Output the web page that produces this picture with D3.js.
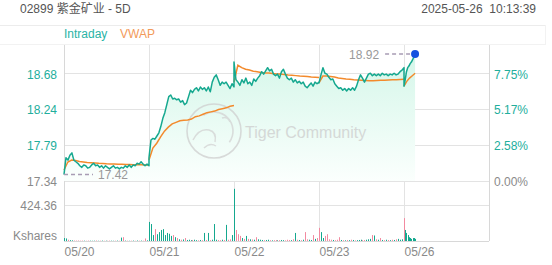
<!DOCTYPE html>
<html><head><meta charset="utf-8">
<script src="https://cdn.jsdelivr.net/npm/d3@7"></script>
<style>
html,body{margin:0;padding:0;background:#fff;}
svg{display:block;font-family:"Liberation Sans",Arial,"Noto Sans CJK SC",sans-serif;}
</style>
</head><body>
<svg id="c" width="552" height="265"></svg>
<script>
const title = "02899 紫金矿业 - 5D";
const timestamp = "2025-05-26  10:13:39";
const dayLabels = ["05/20", "05/21", "05/22", "05/23", "05/26"];
const legendLabels = ["Intraday", "VWAP"];

const price0520 = [17.42,17.63,17.60,17.66,17.69,17.60,17.58,17.56,17.53,17.51,17.54,17.53,17.50,17.51,17.54,17.56,17.53,17.54,17.51,17.53,17.50,17.53,17.51,17.49,17.51,17.53,17.50,17.51,17.49,17.51,17.50,17.53,17.51,17.54,17.51,17.54,17.53,17.56,17.55,17.58,17.55,17.53,17.55,17.53];
const price0521 = [17.63,17.85,17.87,17.86,17.90,17.94,18.02,18.12,18.19,18.29,18.39,18.41,18.36,18.37,18.35,18.36,18.32,18.34,18.29,18.31,18.39,18.47,18.44,18.48,18.50,18.46,18.51,18.48,18.50,18.46,18.51,18.45,18.57,18.63,18.66,18.60,18.53,18.57,18.55,18.57,18.53,18.49,18.55,18.51];
const price0522 = [18.82,18.60,18.57,18.53,18.60,18.56,18.62,18.55,18.57,18.53,18.61,18.58,18.62,18.65,18.70,18.67,18.71,18.75,18.71,18.73,18.67,18.65,18.67,18.62,18.70,18.73,18.67,18.62,18.60,18.62,18.57,18.60,18.56,18.58,18.55,18.57,18.52,18.50,18.53,18.56,18.52,18.57,18.55,18.57];
const price0523 = [18.56,18.66,18.75,18.68,18.67,18.63,18.60,18.61,18.55,18.52,18.49,18.50,18.47,18.49,18.46,18.49,18.47,18.50,18.47,18.52,18.60,18.66,18.62,18.57,18.62,18.67,18.68,18.65,18.67,18.65,18.67,18.65,18.68,18.66,18.67,18.65,18.67,18.66,18.68,18.66,18.67,18.70,18.72,18.75];
const price0526 = [18.52,18.60,18.70,18.75,18.77,18.80,18.82,18.85,18.88,18.92];

const vwap0520 = [17.477,17.576,17.601,17.595,17.583,17.576,17.570,17.567,17.564,17.560,17.558,17.554,17.552,17.552,17.548,17.548,17.545,17.544,17.543,17.542,17.542,17.539,17.539];
const vwap0521 = [17.60,17.75,17.81,17.89,17.96,18.01,18.05,18.07,18.09,18.095,18.10,18.11,18.14,18.15,18.17,18.19,18.20,18.21,18.23,18.24,18.25,18.27,18.28];
const vwap0522 = [18.57,18.78,18.75,18.73,18.72,18.705,18.70,18.69,18.684,18.684,18.678,18.671,18.671,18.665,18.659,18.655,18.651,18.646,18.643,18.639,18.634,18.632,18.628];
const vwap0523 = [18.56,18.646,18.646,18.640,18.634,18.621,18.615,18.609,18.605,18.600,18.597,18.593,18.590,18.588,18.588,18.590,18.593,18.594,18.597,18.599,18.600,18.603,18.605];
const vwap0526 = [18.52,18.58,18.62,18.65,18.68];

const vol0520 = [35,30,15,10,8,6,5,6,4,5,4,3,5,4,3,4,6,3,4,5,3,4,3,5,4,3,4,5,3,40,45,5,4,3,4,5,3,6,4,5,4,30,8,6];
const vol0521 = [225,200,70,140,80,105,130,140,70,95,85,60,70,45,35,20,15,18,35,12,15,10,12,15,10,8,12,10,95,12,95,10,15,200,15,12,10,15,12,190,15,20,70,30];
const vol0522 = [615,130,80,60,35,25,60,25,20,18,15,45,20,15,12,10,12,15,10,8,10,12,8,10,12,10,8,15,12,10,20,95,15,12,10,15,105,20,15,12,70,25,35,20];
const vol0523 = [155,105,35,60,80,20,15,12,10,15,45,12,10,8,12,10,15,12,8,10,12,15,10,12,15,20,25,70,65,20,15,35,12,10,15,12,10,15,12,20,25,15,20,30];
const vol0526 = [270,130,95,70,45,35,25,35,35,25];

const priceTicks = [17.34, 17.79, 18.24, 18.68];
const pctTicks = ["0.00%", "2.58%", "5.17%", "7.75%"];
const priceMin = 17.34, priceMax = 19.032;
const volTick = 424.36, volMax = 707.27;
const lowLabel = 17.42, highLabel = 18.92;
const sessionMinutes = 330, lastDayMinutes = 43;

const priceDays = [price0520, price0521, price0522, price0523, price0526];
const vwapDays = [vwap0520, vwap0521, vwap0522, vwap0523, vwap0526];
const volDays = [vol0520, vol0521, vol0522, vol0523, vol0526];

const teal = "#15a88f", orange = "#f38a2c", pink = "#f28aa0", grid = "#e3e3e3";
const labelTeal = "#22ae9c", grey = "#8a8a8a";

const svg = d3.select("#c");
const L = 64, R = 489, T = 45, PB = 181, VB = 241;
const x = d3.scaleLinear().domain([0, 5]).range([L, R]);
const y = d3.scaleLinear().domain([priceMin, priceMax]).range([PB, T]);
const yv = d3.scaleLinear().domain([0, volMax]).range([VB, PB]);

function timeOf(d, i, n) {
  const span = d < 4 ? sessionMinutes : lastDayMinutes;
  return d + (n > 1 ? i / (n - 1) : 0) * span / sessionMinutes;
}
const pricePts = [];
priceDays.forEach((arr, d) => arr.forEach((v, i) => pricePts.push({t: timeOf(d, i, arr.length), v, vol: volDays[d][i]})));
pricePts.forEach((p, k) => { p.up = k === 0 ? true : p.v >= pricePts[k - 1].v; });

// header
svg.append("text").attr("x", 20).attr("y", 13).attr("font-size", 12).attr("fill", "#555").text(title);
svg.append("text").attr("x", 536).attr("y", 13).attr("font-size", 12).attr("fill", "#555")
  .attr("text-anchor", "end").style("white-space", "pre").text(timestamp);
svg.append("line").attr("x1", 0).attr("x2", 545).attr("y1", 25.5).attr("y2", 25.5).attr("stroke", "#ececec");
svg.append("line").attr("x1", 0).attr("x2", 545).attr("y1", 44.5).attr("y2", 44.5).attr("stroke", "#f2f2f2");
svg.append("line").attr("x1", 545.5).attr("x2", 545.5).attr("y1", 25).attr("y2", 45).attr("stroke", "#f2f2f2");
svg.append("text").attr("x", 64).attr("y", 38).attr("font-size", 12).attr("fill", "#2ab3a5").text(legendLabels[0]);
svg.append("text").attr("x", 120).attr("y", 38).attr("font-size", 12).attr("fill", "#f29a5a").text(legendLabels[1]);

// grid
const g = svg.append("g");
g.selectAll(".hg").data(priceTicks).join("line")
  .attr("x1", L).attr("x2", R).attr("y1", d => Math.round(y(d)) + 0.5).attr("y2", d => Math.round(y(d)) + 0.5)
  .attr("stroke", grid);
g.append("line").attr("x1", L).attr("x2", R).attr("y1", Math.round(yv(volTick)) + 0.5).attr("y2", Math.round(yv(volTick)) + 0.5).attr("stroke", grid);
g.append("line").attr("x1", L).attr("x2", R).attr("y1", VB + 0.5).attr("y2", VB + 0.5).attr("stroke", "#d8d8d8");
g.selectAll(".vg").data([0, 1, 2, 3, 4, 5]).join("line")
  .attr("x1", d => Math.round(x(d)) + 0.5).attr("x2", d => Math.round(x(d)) + 0.5)
  .attr("y1", T).attr("y2", VB).attr("stroke", d => (d === 0 || d === 5) ? "#d8d8d8" : grid);

// area
const defs = svg.append("defs");
const lg = defs.append("linearGradient").attr("id", "ag").attr("gradientUnits", "userSpaceOnUse")
  .attr("x1", 0).attr("y1", T).attr("x2", 0).attr("y2", PB);
lg.append("stop").attr("offset", 0).attr("stop-color", "#d2f6e8");
lg.append("stop").attr("offset", 1).attr("stop-color", "#fbfffd");
svg.append("path").datum(pricePts)
  .attr("d", d3.area().x(d => x(d.t)).y0(PB).y1(d => y(d.v)))
  .attr("fill", "url(#ag)");

// watermark
const wm = svg.append("g").attr("opacity", 0.75);
wm.append("circle").attr("cx", 214).attr("cy", 131).attr("r", 27).attr("fill", "none").attr("stroke", "#cfcfcf").attr("stroke-width", 1.6);
wm.append("path").attr("d", d3.arc()({innerRadius: 19, outerRadius: 19, startAngle: -0.6, endAngle: 2.2})).attr("transform", "translate(214,131)")
  .attr("fill", "none").attr("stroke", "#d3d3d3").attr("stroke-width", 1.6);
wm.append("path").attr("d", "M193,140 q6,-12 16,-10 q8,2 6,12 M204,148 q6,-6 12,-2 M222,118 q6,-2 8,4")
  .attr("fill", "none").attr("stroke", "#d3d3d3").attr("stroke-width", 1.5);
wm.append("text").attr("x", 245).attr("y", 137.5).attr("font-size", 16).attr("fill", "#cdcdcd").text("Tiger Community");

// volume bars
svg.append("g").selectAll("rect").data(pricePts).join("rect")
  .attr("x", d => Math.round(x(d.t)))
  .attr("width", 1)
  .attr("y", d => yv(d.vol))
  .attr("height", d => VB - yv(d.vol))
  .attr("fill", d => d.up ? teal : pink);

// VWAP per day
vwapDays.forEach((arr, d) => {
  const pts = arr.map((v, i) => ({t: timeOf(d, i, arr.length), v}));
  svg.append("path").datum(pts)
    .attr("d", d3.line().x(p => x(p.t)).y(p => y(p.v)))
    .attr("fill", "none").attr("stroke", orange).attr("stroke-width", 1.5);
});

// price line
svg.append("path").datum(pricePts)
  .attr("d", d3.line().x(d => x(d.t)).y(d => y(d.v)))
  .attr("fill", "none").attr("stroke", teal).attr("stroke-width", 1.5).attr("stroke-linejoin", "round");

// low marker
const lowPt = pricePts.find(p => p.v === lowLabel);
svg.append("line").attr("x1", x(lowPt.t)).attr("x2", x(lowPt.t) + 29).attr("y1", y(lowLabel)).attr("y2", y(lowLabel))
  .attr("stroke", "#a89cb4").attr("stroke-width", 1.5).attr("stroke-dasharray", "4,3");
svg.append("text").attr("x", x(lowPt.t) + 34).attr("y", y(lowLabel) + 4.5).attr("font-size", 12).attr("fill", "#999").text(lowLabel.toFixed(2));

// high marker
const hiPt = pricePts.find(p => p.v === highLabel);
svg.append("line").attr("x1", x(hiPt.t) - 30).attr("x2", x(hiPt.t) - 3).attr("y1", y(highLabel)).attr("y2", y(highLabel))
  .attr("stroke", "#a89cb4").attr("stroke-width", 1.5).attr("stroke-dasharray", "4,3");
svg.append("text").attr("x", x(hiPt.t) - 36).attr("y", y(highLabel) + 4.5).attr("font-size", 12).attr("fill", "#999")
  .attr("text-anchor", "end").text(highLabel.toFixed(2));
svg.append("circle").attr("cx", x(hiPt.t)).attr("cy", y(highLabel)).attr("r", 4).attr("fill", "#1652e0");

// axes
const leftAx = svg.append("g").attr("transform", `translate(${L},0)`)
  .call(d3.axisLeft(y).tickValues(priceTicks).tickSize(0).tickPadding(7).tickFormat(d3.format(".2f")));
leftAx.select(".domain").remove();
leftAx.selectAll("text").attr("font-size", 12).attr("font-family", null).attr("dy", "0.4em")
  .attr("fill", (d, i) => i === 0 ? grey : labelTeal);

const rightAx = svg.append("g").attr("transform", `translate(${R - 1},0)`)
  .call(d3.axisRight(y).tickValues(priceTicks).tickSize(0).tickPadding(6).tickFormat((d, i) => pctTicks[i]));
rightAx.select(".domain").remove();
rightAx.selectAll("text").attr("font-size", 12).attr("font-family", null).attr("dy", "0.4em")
  .attr("fill", (d, i) => i === 0 ? grey : labelTeal);

const volAx = svg.append("g").attr("transform", `translate(${L},0)`)
  .call(d3.axisLeft(yv).tickValues([volTick]).tickSize(0).tickPadding(7).tickFormat(d3.format(".2f")));
volAx.select(".domain").remove();
volAx.selectAll("text").attr("font-size", 12).attr("font-family", null).attr("dy", "0.4em").attr("fill", grey);
svg.append("text").attr("x", L - 7).attr("y", VB - 1).attr("text-anchor", "end").attr("font-size", 12).attr("fill", grey).text("Kshares");

const botAx = svg.append("g").attr("transform", `translate(0,${VB})`)
  .call(d3.axisBottom(x).tickValues([0, 1, 2, 3, 4]).tickSize(0).tickPadding(6).tickFormat(i => dayLabels[i]));
botAx.select(".domain").remove();
botAx.selectAll("text").attr("font-size", 12).attr("font-family", null).attr("text-anchor", "start").attr("fill", grey);
</script>
</body></html>
